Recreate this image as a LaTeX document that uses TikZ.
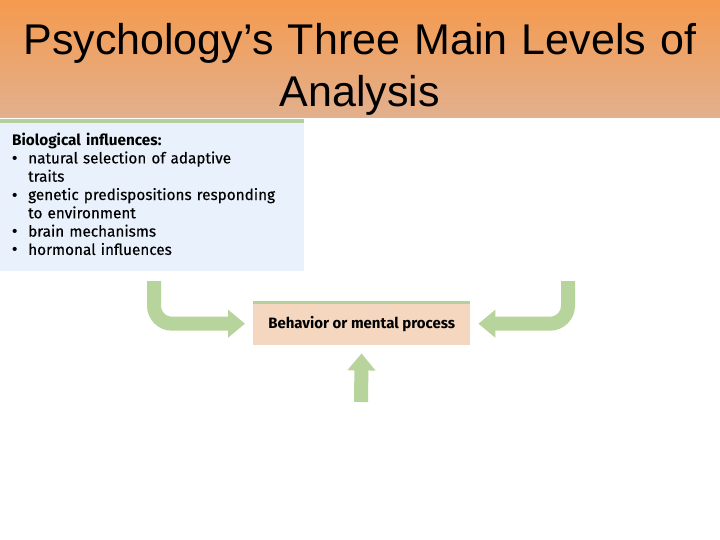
\documentclass[tikz,border=0pt]{standalone}
\usepackage{fontspec}
\setmainfont{Liberation Sans}
\newfontfamily\boxfont[UprightFeatures={FakeBold=0.3}]{Fira Sans}
\newfontfamily\bulfont{Liberation Sans}
\usetikzlibrary{arrows.meta}
\definecolor{hdtop}{RGB}{245,154,78}
\definecolor{hdbot}{RGB}{226,176,142}
\definecolor{arrgreen}{RGB}{183,212,156}
\definecolor{linegreen}{RGB}{181,208,154}
\definecolor{bioblue}{RGB}{233,242,252}
\definecolor{behtan}{RGB}{244,215,190}
\newcommand{\bitem}{\makebox[16pt][l]{\bulfont\textbullet}}
\tikzset{
  flowarrow/.style={draw=arrgreen, line width=14pt, rounded corners=18pt,
    -{Triangle[length=17pt,width=27pt]}, shorten >=8pt},
  boxtext/.style={font=\boxfont\fontsize{15.3pt}{18.3pt}\selectfont, text=black},
}
\begin{document}
\begin{tikzpicture}[x=1pt,y=-1pt]
\useasboundingbox (0,0) rectangle (720,540);
\fill[white] (0,0) rectangle (720,540);
% header
\shade[top color=hdtop, bottom color=hdbot] (0,0) rectangle (720,118);
\node (title) [align=center, font=\fontsize{43pt}{52pt}\selectfont, text width=710pt, anchor=north] at (360,19.5)
  {Psychology’s Three Main Levels of\\Analysis};
% biological box
\fill[bioblue] (0,123) rectangle (304,271);
\fill[linegreen] (0,119) rectangle (304,123);
\node (bio) [boxtext, anchor=north west, align=left, inner sep=0pt, text width=290pt] at (12,132.5)
  {\textbf{Biological influences:}\\
   \bitem natural selection of adaptive\\
   \hspace*{16pt}traits\\
   \bitem genetic predispositions responding\\
   \hspace*{16pt}to environment\\
   \bitem brain mechanisms\\
   \bitem hormonal influences};
% behavior box
\node (beh) [boxtext, fill=behtan, minimum width=217pt, minimum height=43pt, inner sep=0pt, anchor=north west] at (253,302)
  {\raisebox{-2pt}{\fontsize{15pt}{18pt}\selectfont\textbf{Behavior or mental process}}};
\fill[linegreen] (253,301) rectangle (470,304);
% free ends
\coordinate (lstart) at (154,281);
\coordinate (rstart) at (568,281);
\coordinate (bstart) at (361,402);
% arrows
\draw[flowarrow] (lstart) |- (beh.west);
\draw[flowarrow] (rstart) |- (beh.east);
\draw[flowarrow] (bstart) -- (beh.south);
\end{tikzpicture}
\end{document}
